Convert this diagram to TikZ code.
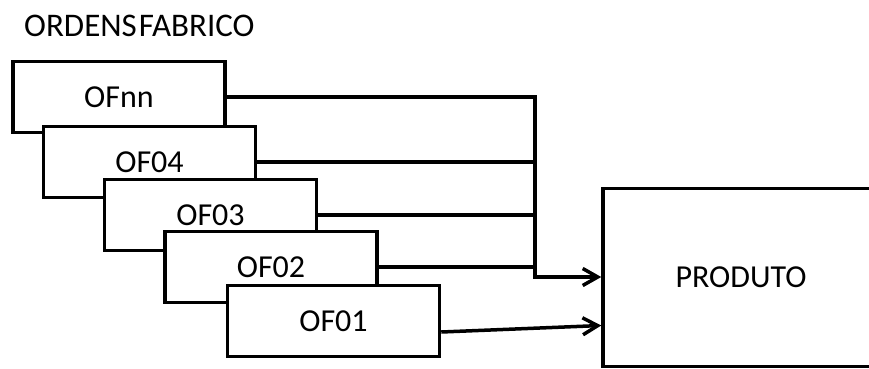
\documentclass[tikz,border=0pt]{standalone}
\usepackage{fontspec}
\setmainfont{Carlito}
\usetikzlibrary{arrows.meta}
\tikzset{
  ofbox/.style={draw=black, line width=3.5pt, fill=white, minimum width=212pt, minimum height=71pt, inner sep=0pt, font=\fontsize{32}{36}\selectfont},
  conn/.style={line width=3.5pt},
  arr/.style={line width=3.5pt, -{Straight Barb[length=15pt, width=17pt, line width=3.5pt]}}
}
\begin{document}
\begin{tikzpicture}[x=1pt, y=1pt]
\useasboundingbox (0,0) rectangle (869,368);
\clip (0,0) rectangle (869,368);
\node[anchor=west, inner sep=0pt, font=\fontsize{33}{36}\selectfont] (title) at (24,342) {ORDENS\hspace{2pt}FABRICO};
\node[ofbox] (OFnn) at (119,271) {OFnn};
\node[ofbox] (OF04) at (149.5,206) {OF04};
\node[ofbox] (OF03) at (210.5,153) {OF03};
\node[ofbox] (OF02) at (271,101) {OF02};
\node[ofbox] (OF01) at (333.5,47) {OF01};
\node[ofbox, minimum width=276pt, minimum height=178pt] (PRODUTO) at (741,90.5) {PRODUTO};
\coordinate (j) at (535,91);
\draw[conn] (OF04.east) -- (OF04.east -| j);
\draw[conn] (OF03.east) -- (OF03.east -| j);
\draw[conn] (OF02.east) -- (OF02.east -| j);
\draw[arr] (OFnn.east) -| (j) -- (j -| PRODUTO.west);
\draw[arr] ([yshift=-11pt]OF01.east) -- ([yshift=-48pt]PRODUTO.west);
\end{tikzpicture}
\end{document}
